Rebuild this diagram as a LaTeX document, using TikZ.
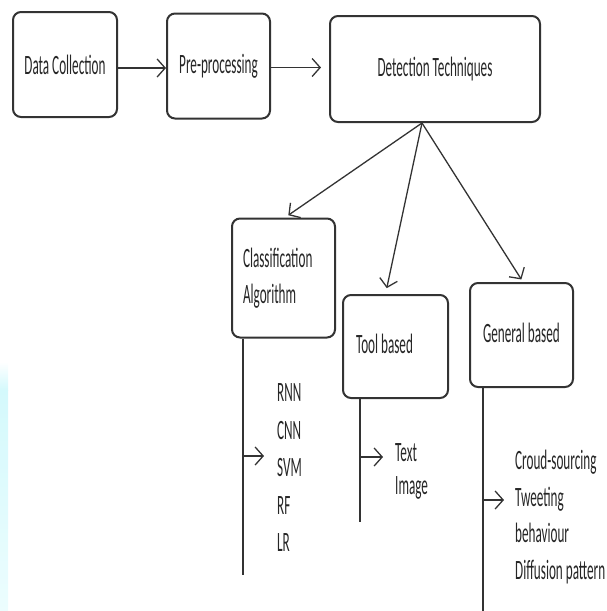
\documentclass[tikz,border=0pt]{standalone}
\usepackage{fontspec}
\setmainfont{Carlito}[FakeStretch=0.47]
\usetikzlibrary{arrows.meta}
\definecolor{ink}{gray}{0.2}
\definecolor{stripc}{RGB}{212,249,252}
\definecolor{stripl}{RGB}{236,253,254}
\newcommand{\lefttext}[2]{\makebox[#1][l]{\begin{tabular}{@{}l@{}}#2\end{tabular}}}
\tikzset{
  box/.style={draw=ink, rounded corners=8pt, line width=2pt, text=black!85,
    inner ysep=0pt, align=center, font=\fontsize{28}{36}\selectfont},
  lst/.style={inner sep=0pt, anchor=west, align=left, text=black!85},
  conn/.style={draw=ink, line width=1.3pt},
  arr/.style={conn, -{Straight Barb[length=8pt,width=18pt,line width=1.3pt]}}
}
\begin{document}
\begin{tikzpicture}[x=1pt,y=-1pt]
\useasboundingbox (0,0) rectangle (606,611);
% faint strip at the left edge
\shade[top color=white, bottom color=stripc] (0,362) rectangle (8,390);
\shade[top color=stripc, bottom color=stripl] (0,390) rectangle (8,611);
% boxes
\node[box, inner xsep=0pt, minimum width=104pt, minimum height=105pt] (dc) at (65,64.5) {Data Collection};
\node[box, inner xsep=0pt, minimum width=103pt, minimum height=105pt] (pp) at (218.5,66) {Pre-processing};
\node[box, inner xsep=0pt, minimum width=210pt, minimum height=106pt] (dt) at (435,69) {Detection Techniques};
\node[box, inner xsep=11pt, minimum height=119pt] (ca) at (283.5,278) {\lefttext{81pt}{Classification\\Algorithm}};
\node[box, inner xsep=13pt, minimum height=103pt] (tb) at (395.5,346.5) {\lefttext{79pt}{Tool based}};
\node[box, inner xsep=13pt, minimum height=104pt] (gb) at (521.5,335) {\lefttext{77pt}{General based}};
% lists
\node[lst, font=\fontsize{28}{37.5}\selectfont] (cal) at (277,468) {RNN\\CNN\\SVM\\RF\\LR};
\node[lst, font=\fontsize{28}{33}\selectfont] (tbl) at (395,471.5) {Text\\Image};
\node[lst, font=\fontsize{28}{36.7}\selectfont] (gbl) at (515,517) {Croud-sourcing\\Tweeting\\behaviour\\Diffusion pattern};
% top row connectors
\draw[arr] ([yshift=-3.5pt]dc.east) -- ([yshift=-3.5pt]dc.east -| pp.west);
\draw[arr, shorten >=8pt] ([yshift=-1.5pt]pp.east) -- ([yshift=-1.5pt]pp.east -| dt.west);
% from detection techniques
\coordinate (dtb) at ([xshift=-13pt]dt.south);
\draw[arr, shorten >=4pt] (dtb) -- ([xshift=1.5pt]ca.north);
\draw[arr, shorten >=6pt] (dtb) -- ([xshift=-10pt]tb.north);
\draw[arr, shorten >=3pt] (dtb) -- ([xshift=1.5pt]gb.north);
% leaf lines
\coordinate (cav) at (243,575);
\coordinate (caj) at (243,456);
\draw[conn] (ca.south -| cav) -- (cav);
\draw[arr, shorten >=13pt] (caj) -- (cal.west |- caj);
\coordinate (tbv) at (360,522);
\coordinate (tbj) at (360,457);
\draw[conn] (tb.south -| tbv) -- (tbv);
\draw[arr, shorten >=12pt] (tbj) -- (tbl.west |- tbj);
\coordinate (gbv) at (483,611);
\coordinate (gbj) at (483,500);
\draw[conn] (gb.south -| gbv) -- (gbv);
\draw[arr, shorten >=11pt] (gbj) -- (gbl.west |- gbj);
\end{tikzpicture}
\end{document}
